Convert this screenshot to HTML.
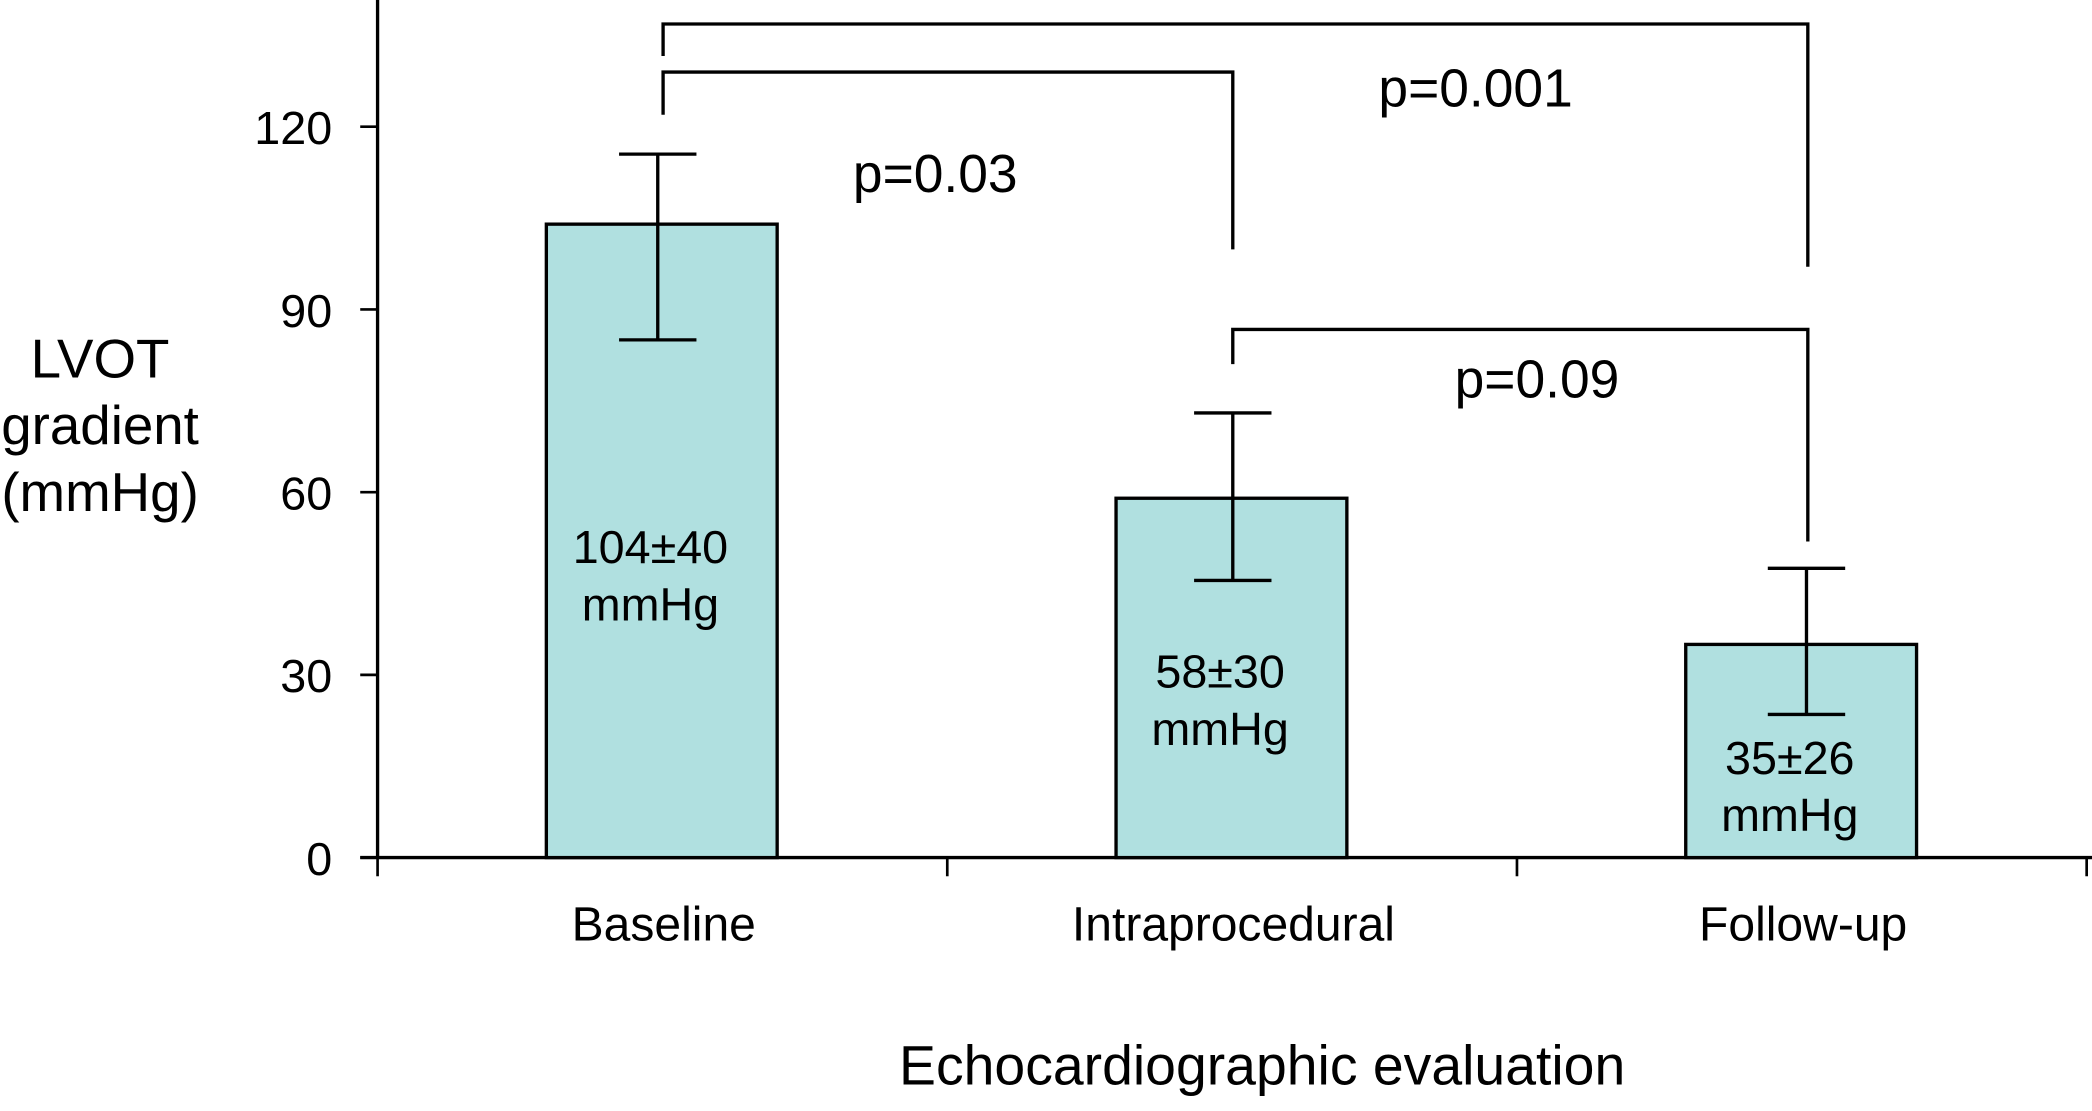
<!DOCTYPE html>
<html><head><meta charset="utf-8"><style>
html,body{margin:0;padding:0;background:#fff;}
svg{display:block;font-family:"Liberation Sans",sans-serif;}
</style></head><body>
<svg id="chart" width="2092" height="1111" viewBox="0 0 1568 833" preserveAspectRatio="none" xmlns="http://www.w3.org/2000/svg"></svg>
<script>
const categories = ["Baseline", "Intraprocedural", "Follow-up"];
const means = [104, 59, 35];
const errUpper = [115.5, 73, 47.5];
const errLower = [85, 45.5, 23.5];
const barLabels = ["104\u00b140", "58\u00b130", "35\u00b126"];
const yTicks = [0, 30, 60, 90, 120];
const comparisons = [
  {from: 0, to: 2, label: "p=0.001"},
  {from: 0, to: 1, label: "p=0.03"},
  {from: 1, to: 2, label: "p=0.09"}
];

const svg = document.getElementById('chart');
const NS = "http://www.w3.org/2000/svg";
function el(tag, attrs, parent){ const e=document.createElementNS(NS,tag); for(const k in attrs) e.setAttribute(k,attrs[k]); (parent||svg).appendChild(e); return e; }

const x0 = 283, x1 = 1564, y0 = 643, pxPer = 548/120;
const y = v => y0 - v*pxPer;
const slot = (x1 - x0)/categories.length;
const xc = i => x0 + slot*(i+0.5);
const barW = 173;
const errOffset = [-3.5, 0.5, 3.5];
const labelDy = [254, 142, 97];

let a = el('line',{x1:x0,y1:0,x2:x0,y2:y0,stroke:'#000','stroke-width':2.5});
 
a = el('line',{x1:270,y1:y0,x2:1568,y2:y0,stroke:'#000','stroke-width':2.5});
 
yTicks.forEach(t=>{
  const l = el('line',{x1:270,y1:y(t),x2:x0,y2:y(t),stroke:'#000','stroke-width':2});
   
  const tx = el('text',{x:249,y:y(t)+13,'text-anchor':'end','font-size':35});
  tx.textContent = t;
   
});
for(let i=0;i<=categories.length;i++){
  const l = el('line',{x1:x0+slot*i,y1:y0,x2:x0+slot*i,y2:657,stroke:'#000','stroke-width':2});
   
}
categories.forEach((c,i)=>{
  const cx = xc(i);
  const r = el('rect',{x:cx-barW/2-0.5,y:y(means[i]),width:barW,height:y0-y(means[i]),fill:'#b0e0e0',stroke:'#000','stroke-width':2.5});
   
  const ex = cx + errOffset[i];
  const g = el('g',{stroke:'#000','stroke-width':2.5});
   
  el('line',{x1:ex,y1:y(errUpper[i]),x2:ex,y2:y(errLower[i])},g);
  el('line',{x1:ex-29,y1:y(errUpper[i]),x2:ex+29,y2:y(errUpper[i])},g);
  el('line',{x1:ex-29,y1:y(errLower[i]),x2:ex+29,y2:y(errLower[i])},g);
  const ly = y(means[i]) + labelDy[i];
  const t1 = el('text',{x:cx-9,y:ly,'text-anchor':'middle','font-size':35});
  t1.textContent = barLabels[i];
   
  const t2 = el('text',{x:cx-9,y:ly+43,'text-anchor':'middle','font-size':35});
  t2.textContent = 'mmHg';
   
  const cl = el('text',{x:cx+1,y:705,'text-anchor':'middle','font-size':36});
  cl.textContent = c;
   
});
const bracketGeom = [
  {yb:18, l:42, r:200, lx:1106, ly:80},
  {yb:54, l:86, r:187, lx:701, ly:144},
  {yb:247, l:273, r:406, lx:1152, ly:298}
];
const bracketX = [497, 924, 1355];
comparisons.forEach((cmp,k)=>{
  const gm = bracketGeom[k];
  const xa = bracketX[cmp.from], xb = bracketX[cmp.to];
  const p = el('path',{d:`M${xa},${gm.l} V${gm.yb} H${xb} V${gm.r}`,fill:'none',stroke:'#000','stroke-width':2.5});
   
  const t = el('text',{x:gm.lx,y:gm.ly,'text-anchor':'middle','font-size':40});
  t.textContent = cmp.label;
   
});
["LVOT","gradient","(mmHg)"].forEach((s,i)=>{
  const t = el('text',{x:75,y:283+i*50,'text-anchor':'middle','font-size':41});
  t.textContent = s;
   
});
const xt = el('text',{x:946,y:813,'text-anchor':'middle','font-size':41.5});
xt.textContent = 'Echocardiographic evaluation';
 
</script>
</body></html>
